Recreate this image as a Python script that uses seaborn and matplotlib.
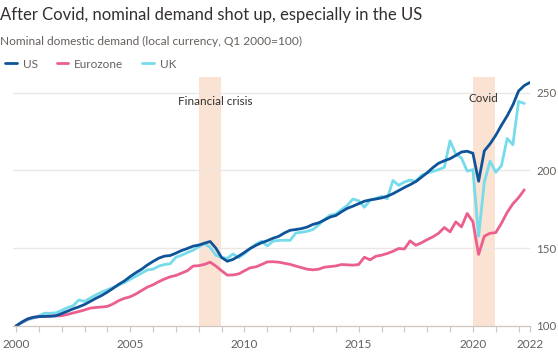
import numpy as np
import pandas as pd
import seaborn as sns
import matplotlib.pyplot as plt
from matplotlib.lines import Line2D

# quarterly index, Q1 2000 = 100
us = [100.0, 102.5, 104.5, 105.6,
      106.0, 106.2, 106.3, 106.6,
      108.0, 109.5, 111.0, 112.3,
      113.8, 115.8, 117.8, 119.6,
      121.8, 124.2, 126.8, 129.0,
      131.8, 134.3, 136.5, 139.2,
      141.5, 143.6, 144.9, 145.3,
      146.8, 148.5, 149.8, 151.3,
      152.0, 153.2, 154.3, 150.0,
      144.0, 141.6, 142.8, 144.9,
      147.3, 149.8, 151.8, 153.5,
      154.8, 156.4, 157.6, 159.8,
      161.5, 162.0, 162.6, 163.6,
      165.3, 166.3, 168.1, 170.0,
      171.0, 173.4, 175.6, 177.0,
      178.6, 180.2, 181.0, 181.6,
      182.3, 183.4, 185.0, 187.0,
      189.0, 190.8, 192.8, 195.6,
      198.5, 201.8, 204.6, 206.2,
      207.5, 209.6, 211.8, 212.3,
      211.0, 193.0, 212.5, 217.0,
      222.5, 229.0, 235.0, 242.0,
      251.0, 254.5, 256.5]

eurozone = [100.0, 102.3, 104.3, 105.5,
            106.0, 106.2, 106.3, 106.5,
            106.6, 107.4, 108.4, 109.3,
            110.3, 111.5, 111.9, 112.2,
            112.6, 114.2, 116.3, 117.8,
            118.8, 120.6, 122.8, 125.0,
            126.5, 128.5, 130.2, 131.6,
            132.5, 134.0, 135.5, 138.5,
            138.8, 139.6, 141.0, 138.5,
            135.5, 132.7, 132.8, 133.5,
            135.5, 137.4, 138.0, 139.5,
            141.2, 141.3, 141.0, 140.3,
            139.6, 138.5, 137.5, 136.5,
            136.1, 136.5, 137.8, 138.2,
            138.6, 139.5, 139.3, 139.1,
            139.5, 144.2, 142.5, 144.8,
            145.5, 146.6, 148.0, 149.8,
            149.5, 154.7, 151.9, 153.5,
            155.5, 157.3, 159.6, 163.3,
            160.5, 166.9, 163.7, 172.3,
            167.0, 146.0, 157.7, 159.6,
            160.0, 166.0, 173.0, 178.5,
            182.5, 187.5]

uk = [100.0, 102.0, 104.0, 105.0,
      106.5, 108.2, 108.2, 108.5,
      110.0, 111.8, 113.0, 116.7,
      115.8, 118.0, 120.0, 121.8,
      123.3, 124.8, 126.3, 128.0,
      130.0, 132.0, 134.0, 136.0,
      136.5, 138.5, 139.5, 140.0,
      144.2, 145.5, 147.2, 148.7,
      150.8, 153.0, 150.5, 145.5,
      144.0, 143.5, 146.3, 144.0,
      146.5, 149.8, 152.5, 154.5,
      151.5, 154.5, 155.0, 155.1,
      155.0, 159.8, 160.2, 160.9,
      162.0, 165.0, 168.5, 171.2,
      172.0, 174.8, 177.5, 181.6,
      180.5, 176.3, 180.8, 182.0,
      183.3, 181.8, 193.5, 190.4,
      192.5, 193.8, 193.0, 196.8,
      198.3, 199.3, 200.5, 202.0,
      219.0, 210.5, 208.0, 199.5,
      200.5, 157.7, 192.5, 206.0,
      198.8, 203.0, 220.5, 216.5,
      244.3, 243.0]

series = {'US': us, 'Eurozone': eurozone, 'UK': uk}
colors = {'US': '#0f5499', 'Eurozone': '#eb5f8f', 'UK': '#76dbeb'}

rows = []
for name, vals in series.items():
    for i, v in enumerate(vals):
        rows.append((name, 2000 + i / 4, v))
df = pd.DataFrame(rows, columns=['region', 'year', 'value'])

sns.set_style('white')
plt.rcParams['font.family'] = ['Lato', 'DejaVu Sans']

fig = plt.figure(figsize=(5.58, 3.55), dpi=100)
ax = fig.add_axes([12.7 / 558, 29 / 355, (530 - 12.7) / 558, 249 / 355])

# shaded periods
ax.axvspan(2008.0, 2008.96, color='#fae3d3', lw=0, zorder=0)
ax.axvspan(2020.0, 2020.96, color='#fae3d3', lw=0, zorder=0)

for y in [150, 200, 250]:
    ax.axhline(y, color='#ebe6e1', lw=0.9, zorder=0.5)

for name in ['UK', 'Eurozone', 'US']:
    sns.lineplot(data=df[df.region == name], x='year', y='value',
                 color=colors[name], lw=2.0, ax=ax, legend=False)

ax.text(2008.73, 244.2, 'Financial crisis', ha='center', va='center',
        fontsize=8.4, color='#33302e')
ax.text(2020.45, 246.2, 'Covid', ha='center', va='center',
        fontsize=8.4, color='#33302e')

ax.set_xlim(1999.855, 2022.5)
ax.set_ylim(100, 260)
ax.set_xlabel('')
ax.set_ylabel('')

ax.set_xticks([2000, 2005, 2010, 2015, 2020, 2022.5])
ax.set_xticklabels(['2000', '2005', '2010', '2015', '2020', '2022'])
ax.set_xticks(list(range(2001, 2023)), minor=True)
ax.tick_params(axis='x', which='both', length=4, width=0.8, color='#cfc7c0',
               labelsize=8.5, labelcolor='#66605c', pad=5, bottom=True)

ax.yaxis.tick_right()
ax.set_yticks([100, 150, 200, 250])
ax.tick_params(axis='y', length=0, labelsize=8.3, labelcolor='#66605c', pad=4.5)

for s in ['top', 'left', 'right']:
    ax.spines[s].set_visible(False)
ax.spines['bottom'].set_color('#cfc7c0')
ax.spines['bottom'].set_linewidth(0.9)

fig.text(0.0, 1 - 15 / 355, 'After Covid, nominal demand shot up, especially in the US',
         fontsize=12.0, color='#33302e', va='center', ha='left')
fig.text(0.0, 1 - 41 / 355, 'Nominal domestic demand (local currency, Q1 2000=100)',
         fontsize=8.6, color='#66605c', va='center', ha='left')

handles = [Line2D([], [], color=colors[n], lw=2.0) for n in series]
fig.legend(handles, list(series), loc='center left', bbox_to_anchor=(-0.01, 1 - 64 / 355),
           ncol=3, frameon=False, fontsize=8.5, handlelength=1.0, handletextpad=0.5,
           columnspacing=1.6, labelcolor='#66605c')

fig.savefig('out.png', dpi=100, facecolor='white')
